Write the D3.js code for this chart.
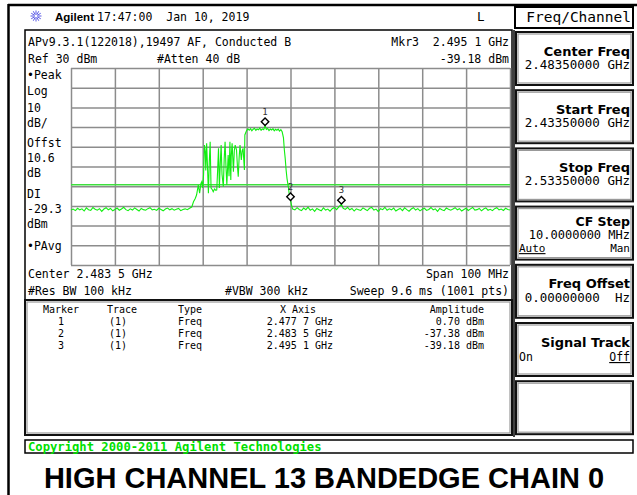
<!DOCTYPE html>
<html>
<head>
<meta charset="utf-8">
<script src="https://cdn.jsdelivr.net/npm/d3@7"></script>
<style>
body { margin: 0; background: #fff; }
text { font-family: "DejaVu Sans Mono", monospace; fill: #000; }
.grid line { stroke: #8c8c8c; stroke-width: 1.5; }
.grid path { display: none; }
</style>
</head>
<body>
<div class="screen"></div>
<script>
// sweep settings (MHz, dBm)
var startMHz = 2433.5, stopMHz = 2533.5;
var refLevel = 30, bottomLevel = -70;
var displayLine = -29.3;

// grid divisions
var gridFreq = [2433.5, 2443.5, 2453.5, 2463.5, 2473.5, 2483.5, 2493.5, 2503.5, 2513.5, 2523.5, 2533.5];
var gridDb = [30, 20, 10, 0, -10, -20, -30, -40, -50, -60, -70];

// trace
var traceFreq = [
  2433.5,2434,2434.5,2435,2435.5,2436,2436.5,2437,2437.5,2438,
  2438.5,2439,2439.5,2440,2440.5,2441,2441.5,2442,2442.5,2443,
  2443.5,2444,2444.5,2445,2445.5,2446,2446.5,2447,2447.5,2448,
  2448.5,2449,2449.5,2450,2450.5,2451,2451.5,2452,2452.5,2453,
  2453.5,2454,2454.5,2455,2455.5,2456,2456.5,2457,2457.5,2458,
  2458.5,2459,2459.5,2460,2460.5,
  2461.0,2461.4,2461.8,2462.1,2462.5,2462.8,2463.1,2463.3,2463.5,2463.7,
  2463.9,2464.1,2464.2,2464.4,2464.6,2464.8,2465.0,2465.2,2465.4,2465.7,
  2465.9,2466.2,2466.5,2466.7,2466.9,2467.1,2467.3,2467.5,2467.7,2467.9,
  2468.2,2468.4,2468.6,2468.8,2469.0,2469.2,2469.3,2469.5,2469.7,2469.9,
  2470.0,2470.2,2470.5,2470.7,2470.9,2471.2,2471.4,2471.6,2471.8,2472.0,
  2472.3,2472.5,2472.7,2473.0,2473.1,
  2473.5,2473.8,2474.1,2474.4,2474.7,2475.0,2475.3,2475.6,2475.9,2476.2,
  2476.5,2476.8,2477.1,2477.4,2477.7,2478.0,2478.3,2478.6,2478.9,2479.2,
  2479.5,2479.8,2480.1,2480.4,2480.7,2481.0,2481.3,2481.6,
  2481.9,2482.1,2482.3,2482.5,2482.7,2483.0,2483.2,2483.5,2483.8,2484.0,
  2484.5,2485,2485.5,2486,2486.5,2487,2487.5,2488,2488.5,2489,
  2489.5,2490,2490.5,2491,2491.5,2492,2492.5,2493,2493.5,2494,
  2494.5,2495.1,2495.5,2496,2496.5,2497,2497.5,2498,2498.5,2499,
  2499.5,2500,2500.5,2501,2501.5,2502,2502.5,2503,2503.5,2504,
  2504.5,2505,2505.5,2506,2506.5,2507,2507.5,2508,2508.5,2509,
  2509.5,2510,2510.5,2511,2511.5,2512,2512.5,2513,2513.5,2514,
  2514.5,2515,2515.5,2516,2516.5,2517,2517.5,2518,2518.5,2519,
  2519.5,2520,2520.5,2521,2521.5,2522,2522.5,2523,2523.5,2524,
  2524.5,2525,2525.5,2526,2526.5,2527,2527.5,2528,2528.5,2529,
  2529.5,2530,2530.5,2531,2531.5,2532,2532.5,2533,2533.5
];
var traceAmp = [
  -42.1,-41.6,-42.4,-41.2,-42.0,-41.5,-42.6,-41.0,-41.9,-42.3,
  -40.8,-41.7,-42.2,-41.4,-42.8,-41.6,-40.9,-42.0,-41.3,-42.5,
  -41.8,-41.1,-42.2,-41.6,-40.7,-41.9,-42.4,-41.5,-42.1,-41.0,
  -41.8,-42.6,-41.3,-41.9,-42.2,-41.4,-40.9,-42.0,-41.7,-42.3,
  -41.2,-41.8,-42.5,-41.6,-41.1,-42.0,-41.4,-42.2,-41.7,-41.3,
  -42.4,-41.8,-41.5,-41.9,-41.2,
  -40.6,-37.9,-36.2,-34.5,-29.4,-33.5,-28.6,-27.7,-30.9,-24.0,
  -9.1,-12.6,-22.0,-8.2,-20.5,-33.6,-18.0,-7.4,-30.9,-31.8,
  -32.8,-31.4,-32.1,-31.9,-22.0,-10.8,-30.9,-18.5,-9.1,-24.0,
  -30.3,-16.0,-7.4,-20.0,-29.4,-19.0,-14.2,-25.0,-7.4,-26.9,
  -15.0,-8.2,-22.6,-12.0,-9.1,-11.6,-19.5,-25.2,-15.5,-9.1,
  -16.7,-12.0,-10.8,-21.8,-4.0,
  -1.8,-0.9,-1.6,-0.8,-1.9,-1.1,-0.6,-1.7,-1.0,-1.4,
  -0.5,-1.6,-0.9,-1.3,0.70,-1.2,-0.7,-1.8,-1.0,-1.5,
  -0.8,-1.9,-1.1,-1.6,-1.0,-2.0,-1.3,-2.4,
  -5.5,-11.6,-16.0,-21.8,-26.0,-30.3,-33.8,-37.38,-40.2,-41.6,
  -42.0,-40.9,-41.8,-42.4,-41.1,-41.9,-40.6,-42.2,-41.5,-42.8,
  -41.3,-41.9,-42.5,-41.0,-42.1,-41.6,-42.7,-41.4,-40.8,-41.9,
  -40.5,-39.18,-41.2,-41.8,-40.7,-42.0,-41.3,-42.6,-41.5,-41.9,
  -42.3,-41.0,-41.7,-42.4,-41.2,-40.8,-42.1,-41.6,-42.9,-41.4,
  -41.9,-40.7,-42.2,-41.5,-42.0,-41.1,-42.6,-41.8,-41.3,-42.4,
  -41.0,-41.9,-42.7,-41.6,-40.9,-42.1,-41.4,-42.5,-41.7,-41.2,
  -42.3,-41.8,-40.8,-42.0,-41.5,-42.8,-41.3,-41.9,-42.4,-41.1,
  -41.7,-42.2,-41.6,-40.9,-42.0,-41.4,-42.6,-41.8,-41.2,-42.3,
  -41.5,-40.8,-42.1,-41.9,-41.3,-42.5,-41.6,-41.0,-42.2,-41.7,
  -42.4,-41.4,-40.9,-42.0,-41.6,-42.3,-41.2,-41.8,-42.1
];

// markers
var markerNum = ["1", "2", "3"];
var markerFreq = [2477.7, 2483.5, 2495.1];
var markerAmp = [0.70, -37.38, -39.18];
var markerTrace = ["(1)", "(1)", "(1)"];
var markerType = ["Freq", "Freq", "Freq"];
var markerX = ["2.477 7 GHz", "2.483 5 GHz", "2.495 1 GHz"];
var markerY = ["0.70 dBm", "-37.38 dBm", "-39.18 dBm"];

// softkey menu
var softTitles = ["Center Freq", "Start Freq", "Stop Freq", "CF Step", "Freq Offset", "Signal Track", ""];
var softValues = ["2.48350000 GHz", "2.43350000 GHz", "2.53350000 GHz", "10.0000000 MHz", "0.00000000  Hz", "", ""];

var W = 637, H = 495;
var svg = d3.select(".screen").append("svg")
    .attr("width", W)
    .attr("height", H);

svg.append("rect").attr("width", W).attr("height", H).attr("fill", "#fff");

// outer frame
svg.append("line").attr("x1", 8.5).attr("x2", 8.5).attr("y1", 4).attr("y2", H)
    .attr("stroke", "#000").attr("stroke-width", 2.5);
svg.append("line").attr("x1", 8).attr("x2", W).attr("y1", 5).attr("y2", 5)
    .attr("stroke", "#000").attr("stroke-width", 2.5);

// title bar
var logo = svg.append("g").attr("transform", "translate(36,16)");
d3.range(12).forEach(function(i) {
    var a = i * Math.PI / 6;
    logo.append("line")
        .attr("x1", Math.cos(a) * 1.5).attr("y1", Math.sin(a) * 1.5)
        .attr("x2", Math.cos(a) * 5.5).attr("y2", Math.sin(a) * 5.5)
        .attr("stroke", "#5a5ae6").attr("stroke-width", 1);
});
svg.append("text").text("Agilent").attr("x", 55).attr("y", 21)
    .style("font-family", "Liberation Sans, Arial, sans-serif")
    .style("font-weight", "bold").style("font-size", "11.5px");
svg.append("text").text("17:47:00  Jan 10, 2019").attr("x", 97).attr("y", 21)
    .style("font-size", "11.5px").attr("xml:space", "preserve");
svg.append("text").text("L").attr("x", 477).attr("y", 21).style("font-size", "12.5px");

// display boxes
svg.append("rect").attr("x", 25).attr("y", 30).attr("width", 487).attr("height", 270)
    .attr("fill", "none").attr("stroke", "#000").attr("stroke-width", 1.5);
svg.append("line").attr("x1", 514).attr("x2", 514).attr("y1", 30).attr("y2", 437)
    .attr("stroke", "#000").attr("stroke-width", 1.5);

function doubleBox(x0, y0, w, h) {
    svg.append("rect").attr("x", x0).attr("y", y0).attr("width", w).attr("height", h)
        .attr("fill", "none").attr("stroke", "#111").attr("stroke-width", 2);
    svg.append("rect").attr("x", x0 + 2).attr("y", y0 + 2).attr("width", w - 4).attr("height", h - 4)
        .attr("fill", "none").attr("stroke", "#999").attr("stroke-width", 1.2);
}

var fs = "11.5px";
function label(t, x0, y0, anchor, size) {
    return svg.append("text").text(t).attr("x", x0).attr("y", y0)
        .attr("text-anchor", anchor || "start")
        .attr("xml:space", "preserve")
        .style("font-size", size || fs);
}

label("APv9.3.1(122018),19497 AF, Conducted B", 28, 46);
label("Mkr3  2.495 1 GHz", 509, 46, "end");
label("Ref 30 dBm", 28, 63);
label("#Atten 40 dB", 157, 63);
label("-39.18 dBm", 509, 63, "end");

var sideText = ["\u2022Peak", "Log", "10", "dB/", "Offst", "10.6", "dB", "DI", "-29.3", "dBm", "\u2022PAvg"];
var sideY = [78.5, 95, 111.5, 126.5, 146.5, 161.5, 176.5, 198, 213, 228, 250];
sideText.forEach(function(t, i) { label(t, 27, sideY[i]); });

label("Center 2.483 5 GHz", 28, 278);
label("Span 100 MHz", 509, 278, "end");
label("#Res BW 100 kHz", 28, 295);
label("#VBW 300 kHz", 225, 295);
label("Sweep 9.6 ms (1001 pts)", 509, 295, "end");

// graticule
var gw = 439, gh = 197;
var x = d3.scaleLinear().domain([startMHz, stopMHz]).range([0, gw]);
var y = d3.scaleLinear().domain([bottomLevel, refLevel]).range([gh, 0]);

var g = svg.append("g").attr("transform", "translate(71,68)");

g.append("g").attr("class", "grid")
    .attr("transform", "translate(0," + gh + ")")
    .call(d3.axisBottom(x).tickValues(gridFreq).tickSize(-gh).tickFormat(""));
g.append("g").attr("class", "grid")
    .call(d3.axisLeft(y).tickValues(gridDb).tickSize(-gw).tickFormat(""));

// display line
g.append("line")
    .attr("x1", 0).attr("x2", gw)
    .attr("y1", y(displayLine)).attr("y2", y(displayLine))
    .attr("stroke", "#3ee03e").attr("stroke-width", 1.5);

var data = traceFreq.map(function(f, i) { return {f: f, a: traceAmp[i]}; });
var line = d3.line()
    .x(function(d) { return x(d.f); })
    .y(function(d) { return y(d.a); });
g.append("path")
    .attr("d", line(data))
    .attr("fill", "none")
    .attr("stroke", "#11ee11")
    .attr("stroke-width", 1.1);

// marker diamonds
var diamond = d3.symbol().type(d3.symbolSquare).size(28);
markerNum.forEach(function(n, i) {
    var mx = x(markerFreq[i]), my = y(markerAmp[i]);
    g.append("path")
        .attr("d", diamond())
        .attr("transform", "translate(" + mx + "," + (my - 4) + ") rotate(45)")
        .attr("fill", "#fff").attr("stroke", "#000").attr("stroke-width", 1.4);
    g.append("text").text(n)
        .attr("x", mx).attr("y", my - 11)
        .attr("text-anchor", "middle")
        .style("font-size", "9px").style("fill", "#333");
});

// marker table
doubleBox(25, 300, 487, 135);
var ts = "10px";
label("Marker", 43, 313, "start", ts);
label("Trace", 107, 313, "start", ts);
label("Type", 178, 313, "start", ts);
label("X Axis", 316, 313, "end", ts);
label("Amplitude", 484, 313, "end", ts);
markerNum.forEach(function(n, i) {
    var ry = 325 + i * 12;
    label(n, 61, ry, "middle", ts);
    label(markerTrace[i], 118, ry, "middle", ts);
    label(markerType[i], 178, ry, "start", ts);
    label(markerX[i], 333, ry, "end", ts);
    label(markerY[i], 484, ry, "end", ts);
});

// softkeys
svg.append("rect").attr("x", 515).attr("y", 7).attr("width", 118).attr("height", 21)
    .attr("fill", "none").attr("stroke", "#000").attr("stroke-width", 2);
label("Freq/Channel", 631, 22, "end", "14.5px");

softTitles.forEach(function(t, i) {
    var top = 32 + i * 58.2;
    doubleBox(516, top, 117, 53);
    var ty = (i === 3) ? top + 19.5 : top + 23.5;
    var vy = (i === 3) ? top + 32.5 : top + 37;
    svg.append("text").text(t)
        .attr("x", 630).attr("y", ty)
        .attr("text-anchor", "end")
        .style("font-family", "DejaVu Sans, sans-serif")
        .style("font-weight", "bold").style("font-size", (i === 3) ? "12.5px" : "13px");
    if (softValues[i]) label(softValues[i], 630, vy, "end", (i === 3) ? "12px" : "12.5px");
});
label("Auto", 519, 32 + 3 * 58.2 + 45.5, "start", "11px").style("text-decoration", "underline");
label("Man", 630, 32 + 3 * 58.2 + 45.5, "end", "11px");
label("On", 519, 32 + 5 * 58.2 + 38, "start", "11.5px");
label("Off", 630, 32 + 5 * 58.2 + 38, "end", "11.5px").style("text-decoration", "underline");

// copyright bar
svg.append("rect").attr("x", 25).attr("y", 440).attr("width", 608).attr("height", 13)
    .attr("fill", "none").attr("stroke", "#000").attr("stroke-width", 1.5);
svg.append("text").text("Copyright 2000-2011 Agilent Technologies")
    .attr("x", 28).attr("y", 451)
    .style("font-size", "12.2px").style("font-weight", "bold").style("fill", "#00e000");

// caption
svg.append("text").text("HIGH CHANNEL 13 BANDEDGE CHAIN 0")
    .attr("x", 324).attr("y", 488)
    .attr("text-anchor", "middle")
    .style("font-family", "Liberation Sans, Arial, sans-serif")
    .style("font-weight", "bold").style("font-size", "29px");
</script>
</body>
</html>
